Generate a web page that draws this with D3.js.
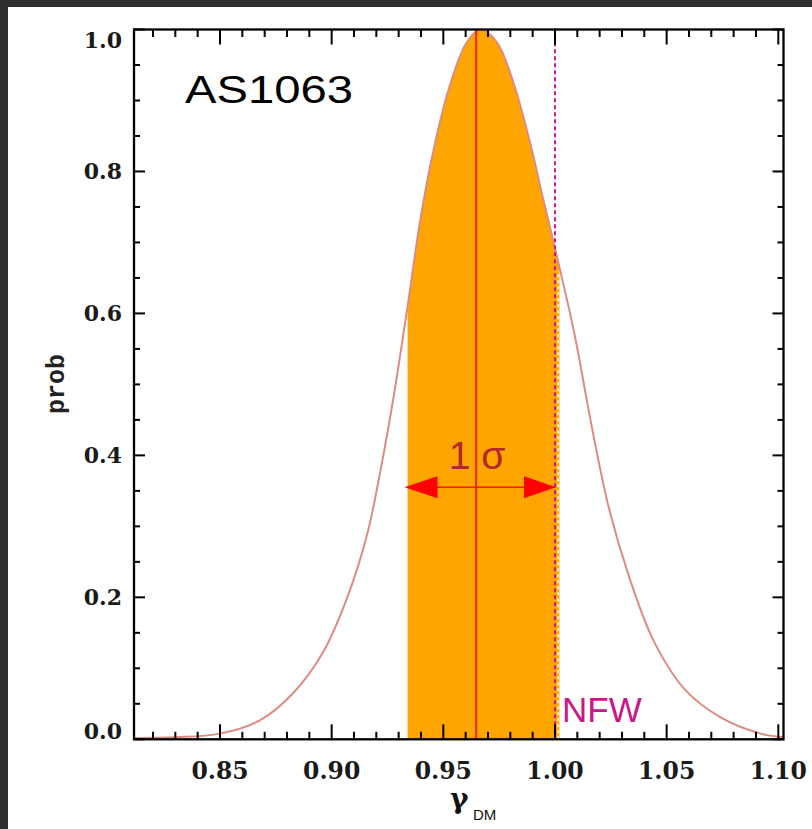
<!DOCTYPE html>
<html>
<head>
<meta charset="utf-8">
<script src="https://cdn.jsdelivr.net/npm/d3@7"></script>
<style>
	html, body { margin: 0; padding: 0; background: #2f2f2f; }
	svg { display: block; }
</style>
</head>
<body>
<svg id="chart" width="812" height="829"></svg>
<script>
// posterior of the dark matter slope
const gammaValues = [0.8115, 0.830, 0.850, 0.868, 0.883, 0.896, 0.907, 0.916, 0.922, 0.9275, 0.934, 0.9396, 0.9456, 0.953, 0.9605, 0.9665, 0.974, 0.9814, 0.9889, 0.9948, 1.000, 1.0088, 1.0165, 1.0242, 1.0335, 1.0443, 1.0582, 1.0736, 1.0921, 1.1023];
const probValues = [0.002, 0.003, 0.008, 0.027, 0.066, 0.122, 0.200, 0.290, 0.381, 0.478, 0.610, 0.730, 0.830, 0.922, 0.982, 1.000, 0.982, 0.925, 0.840, 0.760, 0.692, 0.570, 0.440, 0.325, 0.226, 0.138, 0.070, 0.032, 0.008, 0.003];

const xTicks = [0.85, 0.90, 0.95, 1.00, 1.05, 1.10];
const xTickLabels = ["0.85", "0.90", "0.95", "1.00", "1.05", "1.10"];
const yTicks = [0.0, 0.2, 0.4, 0.6, 0.8, 1.0];
const yTickLabels = ["0.0", "0.2", "0.4", "0.6", "0.8", "1.0"];

const sigmaBand = [0.934, 1.002];
const peakGamma = 0.9647;
const nfwGamma = 1.0;
const arrowProb = 0.355;
const clusterName = "AS1063";

const svg = d3.select('#chart');

const plot = {left: 134, right: 783.5, top: 29.5, bottom: 739.3};

const x = d3.scaleLinear()
	.domain([0.85, 1.10])
	.range([220, 778.3]);
const y = d3.scaleLinear()
	.domain([0, 1])
	.range([plot.bottom, plot.top]);

const points = gammaValues.map((g, i) => ({g, p: probValues[i]}));

// paper
svg.append('rect')
	.attr('x', 8).attr('y', 7)
	.attr('width', 804).attr('height', 822)
	.attr('fill', '#fff');

svg.append('clipPath')
	.attr('id', 'band')
	.append('rect')
	.attr('x', x(sigmaBand[0]))
	.attr('y', plot.top)
	.attr('width', x(sigmaBand[1]) - x(sigmaBand[0]))
	.attr('height', plot.bottom - plot.top);

const area = d3.area()
	.x(d => x(d.g))
	.y0(y(0))
	.y1(d => y(d.p))
	.curve(d3.curveCatmullRom.alpha(0.5));

const line = d3.line()
	.x(d => x(d.g))
	.y(d => y(d.p))
	.curve(d3.curveCatmullRom.alpha(0.5));

svg.append('path')
	.attr('d', area(points))
	.attr('clip-path', 'url(#band)')
	.attr('fill', '#ffa500');

// thin light edge of the band
svg.append('line')
	.attr('x1', x(1.0014)).attr('x2', x(1.0014))
	.attr('y1', y(0)).attr('y2', y(0.66))
	.attr('stroke', '#fff')
	.attr('stroke-width', 1.5)
	.attr('stroke-dasharray', '3,3');

svg.append('path')
	.attr('d', line(points))
	.attr('fill', 'none')
	.attr('stroke', '#dc8c82')
	.attr('stroke-width', 2);

// best value
svg.append('line')
	.attr('x1', x(peakGamma)).attr('x2', x(peakGamma))
	.attr('y1', y(0)).attr('y2', y(1))
	.attr('stroke', '#e4391c')
	.attr('stroke-width', 2.4);

// NFW slope
svg.append('line')
	.attr('x1', x(nfwGamma)).attr('x2', x(nfwGamma))
	.attr('y1', y(0)).attr('y2', plot.top - 2)
	.attr('stroke', '#d4148f')
	.attr('stroke-width', 2)
	.attr('stroke-dasharray', '4,3');

// 1 sigma arrow
const ax0 = x(sigmaBand[0]) - 3;
const ax1 = x(nfwGamma) + 1;
const ay = y(arrowProb);
svg.append('line')
	.attr('x1', ax0 + 20).attr('x2', ax1 - 20)
	.attr('y1', ay).attr('y2', ay)
	.attr('stroke', '#ff1a00')
	.attr('stroke-width', 1.5);
svg.append('path')
	.attr('d', `M${ax0},${ay}L${ax0 + 33},${ay - 11}L${ax0 + 33},${ay + 11}Z`)
	.attr('fill', '#ff0000');
svg.append('path')
	.attr('d', `M${ax1},${ay}L${ax1 - 32},${ay - 11}L${ax1 - 32},${ay + 11}Z`)
	.attr('fill', '#ff0000');

svg.append('text')
	.attr('x', x(peakGamma) + 1)
	.attr('y', 469)
	.attr('text-anchor', 'middle')
	.attr('font-family', 'Liberation Sans, Arial, sans-serif')
	.attr('font-size', 39)
	.attr('fill', '#b3282c')
	.text('1 σ');

svg.append('text')
	.attr('x', 562)
	.attr('y', 722)
	.attr('font-family', 'Liberation Sans, Arial, sans-serif')
	.attr('font-size', 35)
	.attr('fill', '#c9168a')
	.text('NFW');

svg.append('text')
	.attr('x', 185)
	.attr('y', 103)
	.attr('font-family', 'Liberation Sans, Arial, sans-serif')
	.attr('font-size', 39)
	.attr('textLength', 168)
	.attr('lengthAdjust', 'spacingAndGlyphs')
	.attr('fill', '#000')
	.text(clusterName);

// ticks on all four sides
const ticks = svg.append('g')
	.attr('stroke', '#000')
	.attr('stroke-width', 2);

const xMinor = d3.range(82, 111).map(v => v / 100).filter(v => !xTicks.some(t => Math.abs(t - v) < 1e-6));
const yMinor = d3.range(1, 20).map(v => v / 20).filter(v => !yTicks.some(t => Math.abs(t - v) < 1e-6));

[[xTicks, 15], [xMinor, 7.5]].forEach(([vals, len]) => {
	vals.forEach(v => {
		ticks.append('line')
			.attr('x1', x(v)).attr('x2', x(v))
			.attr('y1', plot.bottom).attr('y2', plot.bottom - len);
		ticks.append('line')
			.attr('x1', x(v)).attr('x2', x(v))
			.attr('y1', plot.top).attr('y2', plot.top + len);
	});
});
[[yTicks, 11], [yMinor, 6]].forEach(([vals, len]) => {
	vals.forEach(v => {
		ticks.append('line')
			.attr('x1', plot.left).attr('x2', plot.left + len)
			.attr('y1', y(v)).attr('y2', y(v));
		ticks.append('line')
			.attr('x1', plot.right).attr('x2', plot.right - len)
			.attr('y1', y(v)).attr('y2', y(v));
	});
});

svg.append('rect')
	.attr('x', plot.left).attr('y', plot.top)
	.attr('width', plot.right - plot.left)
	.attr('height', plot.bottom - plot.top)
	.attr('fill', 'none')
	.attr('stroke', '#000')
	.attr('stroke-width', 2.3);

// tick labels
svg.append('g')
	.selectAll('text')
	.data(xTicks)
	.join('text')
	.attr('x', d => x(d))
	.attr('y', 779)
	.attr('text-anchor', 'middle')
	.attr('font-family', 'DejaVu Serif, serif')
	.attr('font-weight', 'bold')
	.attr('font-size', 23.5)
	.attr('fill', '#1a1a1a')
	.text((d, i) => xTickLabels[i]);

svg.append('g')
	.selectAll('text')
	.data(yTicks)
	.join('text')
	.attr('x', 122)
	.attr('y', d => Math.min(Math.max(y(d), 40), 731.5))
	.attr('dy', '0.36em')
	.attr('text-anchor', 'end')
	.attr('font-family', 'DejaVu Serif, serif')
	.attr('font-weight', 'bold')
	.attr('font-size', 22)
	.attr('fill', '#1a1a1a')
	.text((d, i) => yTickLabels[i]);

// axis titles
svg.append('text')
	.attr('transform', 'translate(64,384) rotate(-90)')
	.attr('text-anchor', 'middle')
	.attr('font-family', 'Liberation Mono, Courier New, monospace')
	.attr('font-weight', 'bold')
	.attr('font-size', 25)
	.attr('fill', '#222')
	.text('prob');

const xTitle = svg.append('text')
	.attr('x', 450)
	.attr('y', 808)
	.attr('fill', '#111');
xTitle.append('tspan')
	.attr('font-family', 'DejaVu Serif, serif')
	.attr('font-weight', 'bold')
	.attr('font-size', 28)
	.text('γ');
xTitle.append('tspan')
	.attr('x', 473)
	.attr('y', 820)
	.attr('font-family', 'Liberation Sans, Arial, sans-serif')
	.attr('font-size', 15)
	.text('DM');
</script>
</body>
</html>
